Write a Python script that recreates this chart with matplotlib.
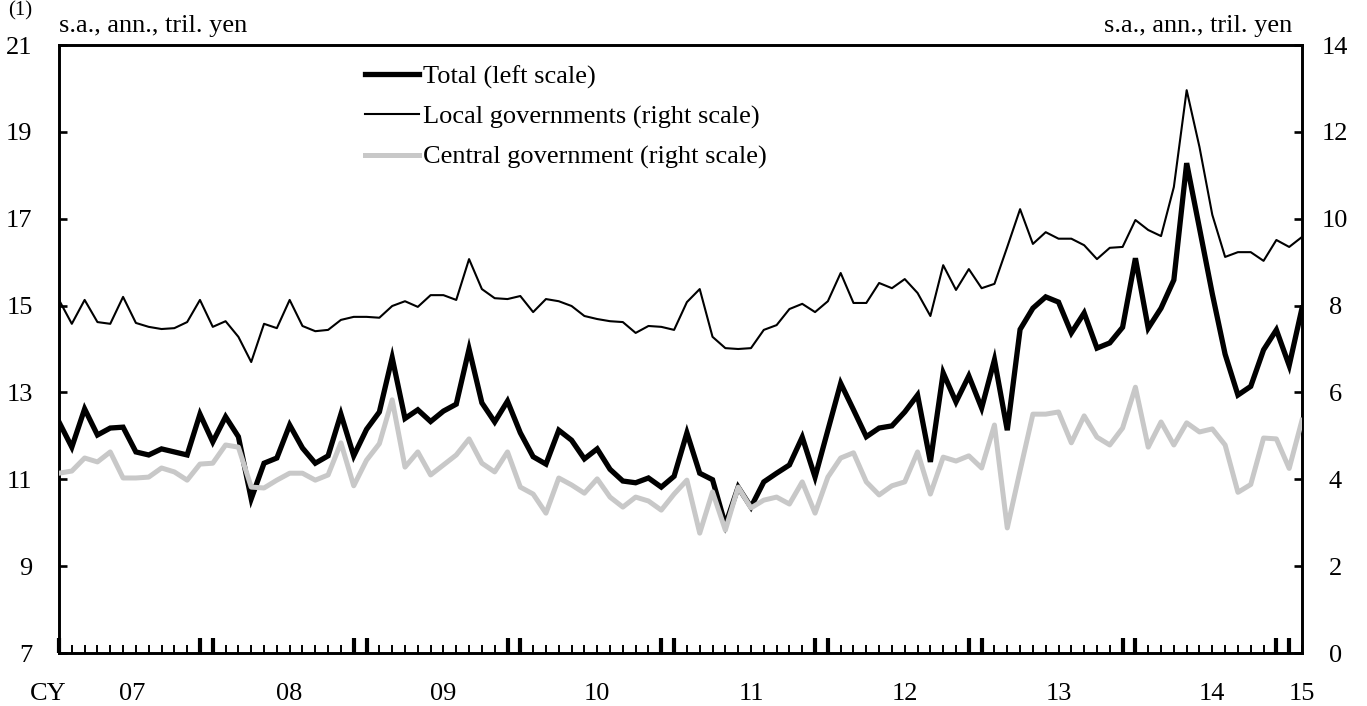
import matplotlib
matplotlib.use("Agg")
import matplotlib.pyplot as plt
import numpy as np
from matplotlib.lines import Line2D

plt.rcParams['font.family'] = ['Liberation Serif', 'DejaVu Serif']
plt.rcParams['font.size'] = 19

# Monthly, Jan 2007 .. Feb 2015 (98 months)
total = [12.32, 11.74, 12.62, 12.02, 12.18, 12.20, 11.63, 11.56, 11.70, 11.63, 11.56, 12.50,
         11.86, 12.44, 11.98, 10.55, 11.37, 11.49, 12.25, 11.72, 11.37, 11.54, 12.50, 11.54,
         12.15, 12.55, 13.80, 12.40, 12.60, 12.33, 12.57, 12.73, 14.00, 12.76, 12.32, 12.80,
         12.07, 11.52, 11.35, 12.13, 11.90, 11.47, 11.70, 11.23, 10.96, 10.92, 11.03, 10.82,
         11.07, 12.07, 11.14, 10.99, 9.95, 10.82, 10.36, 10.94, 11.14, 11.33, 11.97, 11.05,
         12.13, 13.21, 12.60, 11.98, 12.18, 12.23, 12.55, 12.94, 11.40, 13.45, 12.78, 13.38,
         12.64, 13.75, 12.13, 14.45, 14.94, 15.20, 15.08, 14.37, 14.83, 14.02, 14.14, 14.50,
         16.09, 14.48, 14.94, 15.59, 18.28, 16.78, 15.27, 13.88, 12.94, 13.14, 13.98, 14.44,
         13.62, 14.94]

local = [8.13, 7.58, 8.13, 7.62, 7.58, 8.20, 7.60, 7.51, 7.46, 7.48, 7.62, 8.13,
         7.51, 7.64, 7.28, 6.70, 7.58, 7.48, 8.13, 7.53, 7.41, 7.44, 7.67, 7.74,
         7.74, 7.72, 7.99, 8.10, 7.97, 8.24, 8.24, 8.13, 9.07, 8.38, 8.17, 8.15,
         8.22, 7.85, 8.15, 8.10, 7.99, 7.76, 7.69, 7.64, 7.62, 7.37, 7.53, 7.51,
         7.44, 8.08, 8.38, 7.28, 7.02, 7.00, 7.02, 7.44, 7.55, 7.92, 8.04, 7.85,
         8.10, 8.75, 8.06, 8.06, 8.52, 8.40, 8.61, 8.29, 7.76, 8.93, 8.36, 8.84,
         8.40, 8.50, 9.35, 10.22, 9.42, 9.69, 9.54, 9.54, 9.39, 9.07, 9.33, 9.35,
         9.97, 9.74, 9.60, 10.73, 12.96, 11.65, 10.09, 9.12, 9.23, 9.23, 9.03, 9.51,
         9.35, 9.58]

central = [4.14, 4.19, 4.49, 4.40, 4.63, 4.03, 4.03, 4.05, 4.26, 4.17, 3.98, 4.35,
           4.37, 4.79, 4.74, 3.82, 3.80, 3.98, 4.14, 4.14, 3.98, 4.10, 4.84, 3.85,
           4.44, 4.82, 5.83, 4.28, 4.63, 4.10, 4.33, 4.56, 4.93, 4.37, 4.17, 4.63,
           3.82, 3.66, 3.22, 4.03, 3.87, 3.68, 4.01, 3.59, 3.36, 3.59, 3.50, 3.29,
           3.66, 3.98, 2.76, 3.71, 2.83, 3.82, 3.34, 3.52, 3.59, 3.43, 3.94, 3.22,
           4.05, 4.49, 4.61, 3.94, 3.64, 3.85, 3.94, 4.63, 3.66, 4.51, 4.42, 4.54,
           4.26, 5.25, 2.88, 4.20, 5.50, 5.50, 5.55, 4.84, 5.46, 4.97, 4.79, 5.18,
           6.12, 4.74, 5.32, 4.79, 5.30, 5.09, 5.16, 4.79, 3.70, 3.88, 4.95, 4.93,
           4.25, 5.36]

year_labels = ['07', '08', '09', '10', '11', '12', '13', '14', '15']
left_ticks = [7, 9, 11, 13, 15, 17, 19, 21]
right_ticks = [0, 2, 4, 6, 8, 10, 12, 14]
legend_labels = ['Total (left scale)', 'Local governments (right scale)',
                 'Central government (right scale)']
unit_text = 's.a., ann., tril. yen'

W, H = 1367, 706
fig = plt.figure(figsize=(W / 100, H / 100), dpi=100)
L, R, T, B = 59, 1302, 45, 653
ax = fig.add_axes([L / W, 1 - B / H, (R - L) / W, (B - T) / H])
ax2 = ax.twinx()

x = np.arange(len(total))
ax.plot(x, total, color='black', lw=3.8, solid_joinstyle='miter', zorder=3)
ax2.plot(x, local, color='black', lw=1.5, zorder=2)
ax2.plot(x, central, color='#c8c8c8', lw=3.6, zorder=3)

ax.set_xlim(0, len(total) - 1)
ax.set_ylim(7, 21)
ax2.set_ylim(0, 14)

for a in (ax, ax2):
    for s in a.spines.values():
        s.set_linewidth(1.9)

# y ticks
ax.set_yticks(left_ticks)
ax.set_yticklabels([str(v) for v in left_ticks])
ax.tick_params(axis='y', direction='in', length=6, width=1.9, pad=19)
ax2.set_yticks(right_ticks)
ax2.set_yticklabels([str(v) for v in right_ticks])
ax2.tick_params(axis='y', direction='in', length=6, width=1.9, pad=24)
for lab in ax2.get_yticklabels():
    lab.set_ha('center')

# x ticks: monthly minor ticks, tall double ticks at Dec/Jan boundaries
n = len(total)
major = [0] + [m for k in range(1, 9) for m in (12 * k - 1, 12 * k) if m < n]
ax.set_xticks(major)
ax.set_xticklabels([''] * len(major))
ax.set_xticks(np.arange(n), minor=True)
ax.tick_params(axis='x', which='major', direction='in', length=11, width=3.0)
ax.tick_params(axis='x', which='minor', direction='in', length=5.5, width=1.4)

label_pos = [5.7, 18, 30, 42, 54, 66, 78, 90, 97]
yb = -(700 - B) / (B - T)
for lab, p in zip(year_labels, label_pos):
    ax.text(p, yb, lab, transform=ax.get_xaxis_transform(), ha='center', va='baseline')
ax.text(-0.86, yb, 'CY', transform=ax.get_xaxis_transform(), ha='center', va='baseline')

# units
fig.text(L / W, 1 - 26 / H, unit_text, ha='left', va='center')
fig.text(1292 / W, 1 - 26 / H, unit_text, ha='right', va='center')
fig.text(8 / W, 1 - 1 / H, '(1)', ha='left', va='top', fontsize=15)

handles = [Line2D([], [], color='black', lw=3.8),
           Line2D([], [], color='black', lw=1.5),
           Line2D([], [], color='#c8c8c8', lw=3.6)]
ax2.legend(handles, legend_labels, loc='upper left',
           bbox_to_anchor=(365 / W, 1 - 65 / H), bbox_transform=fig.transFigure,
           frameon=False, borderpad=0, borderaxespad=0, handlelength=2.05,
           handletextpad=0.15, labelspacing=0.62, fontsize=19)

fig.savefig('out.png', dpi=100)
